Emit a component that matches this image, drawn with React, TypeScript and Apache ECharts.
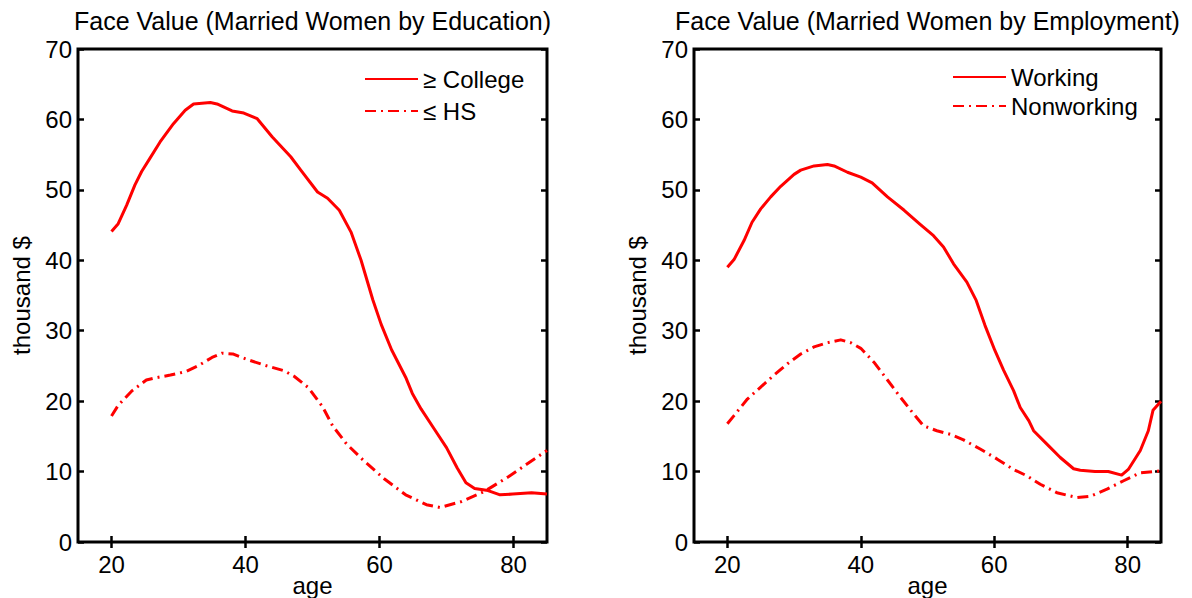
import React, { useEffect, useRef } from 'react';
import * as echarts from 'echarts';

// ---- tick labels ----
const xTicks = [20, 40, 60, 80];
const yMin = 0;
const yMax = 70;
const yStep = 10;
const xMin = 15;
const xMax = 85;

// ---- titles / names ----
const titleLeft = 'Face Value (Married Women by Education)';
const titleRight = 'Face Value (Married Women by Employment)';
const xName = 'age';
const yName = 'thousand $';

// ---- left panel: by education ----
const collegeName = '≥ College';
const collegeAges = [20, 21, 22.25, 23.5, 24.5, 25.75, 27.25, 29.25, 31, 32.25, 34.75, 35.75, 38, 39.75, 41.75, 44, 46.75, 48.25, 50.75, 52.25, 54, 55.75, 57.25, 59, 60.25, 61.8, 63.9, 64.9, 66.2, 68, 70, 71.6, 72.9, 74.2, 76.2, 78, 79.9, 82.7, 85];
const collegeValues = [44.1, 45.2, 47.8, 50.7, 52.6, 54.5, 56.8, 59.4, 61.3, 62.2, 62.4, 62.2, 61.2, 60.9, 60.1, 57.5, 54.7, 52.8, 49.7, 48.8, 47.1, 44.0, 40.0, 34.4, 30.9, 27.3, 23.4, 21.1, 18.9, 16.3, 13.4, 10.5, 8.4, 7.6, 7.3, 6.7, 6.8, 7.0, 6.8];

const hsName = '≤ HS';
const hsAges = [20, 21, 23.1, 25.2, 26.5, 28.8, 31.1, 32.9, 35, 36.5, 38.1, 40.6, 43.2, 45.8, 47.3, 49.4, 51.5, 53, 55.1, 57.7, 60.8, 63.9, 67, 69, 72.1, 75.7, 79.3, 81.9, 85];
const hsValues = [17.9, 19.4, 21.5, 23.0, 23.3, 23.7, 24.2, 25.0, 26.2, 26.8, 26.7, 25.8, 25.0, 24.3, 23.5, 21.9, 19.2, 16.5, 13.9, 11.5, 8.9, 6.7, 5.3, 4.9, 5.7, 7.2, 9.3, 11.0, 13.0];

// ---- right panel: by employment ----
const workingName = 'Working';
const workingAges = [20, 21, 22.5, 23.7, 25, 26.5, 28, 30, 31, 33, 35, 36, 38, 40, 41.7, 44, 46.5, 48.9, 50.9, 52.4, 53.9, 55.9, 57.3, 58.6, 60.1, 61.4, 62.9, 63.9, 65.2, 65.9, 67.9, 69.9, 71.9, 72.9, 75.1, 77.1, 79.1, 80.1, 81.9, 83.1, 83.8, 85];
const workingValues = [39.0, 40.1, 42.8, 45.4, 47.3, 49.0, 50.5, 52.2, 52.8, 53.4, 53.6, 53.4, 52.5, 51.8, 51.0, 49.0, 47.1, 45.1, 43.5, 41.9, 39.5, 36.9, 34.3, 30.8, 27.2, 24.4, 21.5, 19.1, 17.2, 15.8, 13.9, 12.0, 10.4, 10.2, 10.0, 10.0, 9.5, 10.3, 13.0, 15.8, 18.7, 20.0];

const nonworkingName = 'Nonworking';
const nonworkingAges = [20, 21, 23, 25, 27, 29, 31, 33, 35, 37, 38.5, 40, 42, 44, 45.9, 47.9, 49.4, 51.4, 53.4, 55.4, 57.9, 60.4, 62.9, 64.9, 66.9, 69.4, 72.4, 74.4, 76.9, 79.4, 81.8, 85];
const nonworkingValues = [16.8, 17.95, 20.3, 22.0, 23.7, 25.3, 26.7, 27.7, 28.3, 28.7, 28.3, 27.5, 25.5, 23.0, 20.6, 18.2, 16.5, 15.8, 15.3, 14.5, 13.2, 11.8, 10.3, 9.4, 8.2, 7.0, 6.3, 6.5, 7.5, 8.7, 9.8, 10.1];

const FONT = 'Liberation Sans, Arial, Helvetica, sans-serif';
const FS = 24;
const FS_TITLE = 25;
const RED = '#ff0000';

const zip = (xs: number[], ys: number[]) => xs.map((x, i) => [x, ys[i]]);

function buildOption() {
  const grids = [
    { left: 78, top: 49, width: 469, height: 493 },
    { left: 694, top: 49, width: 467, height: 493 },
  ];

  const tickStyle = { show: true, inside: true, length: 6, lineStyle: { color: '#000', width: 2.5 } };
  const xAxes: any[] = [];
  const yAxes: any[] = [];
  grids.forEach((_, gi) => {
    xAxes.push({
      type: 'value', gridIndex: gi, position: 'bottom', min: xMin, max: xMax,
      axisLine: { show: false },
      axisTick: { ...tickStyle, customValues: xTicks },
      axisLabel: { customValues: xTicks, color: '#000', fontSize: FS, fontFamily: FONT, margin: 10 },
      splitLine: { show: false },
      name: xName, nameLocation: 'middle', nameGap: 31, nameMoveOverlap: false,
      nameTextStyle: { color: '#000', fontSize: FS, fontFamily: FONT },
    });
    xAxes.push({
      type: 'value', gridIndex: gi, position: 'top', min: xMin, max: xMax,
      axisLine: { show: false },
      axisTick: { ...tickStyle, customValues: xTicks },
      axisLabel: { show: false, customValues: xTicks },
      splitLine: { show: false },
    });
    yAxes.push({
      type: 'value', gridIndex: gi, position: 'left', min: yMin, max: yMax, interval: yStep,
      axisLine: { show: false },
      axisTick: tickStyle,
      axisLabel: { color: '#000', fontSize: FS, fontFamily: FONT, margin: 6 },
      splitLine: { show: false },
      name: yName, nameLocation: 'middle', nameGap: 45, nameRotate: 90, nameMoveOverlap: false,
      nameTextStyle: { color: '#000', fontSize: FS, fontFamily: FONT },
    });
    yAxes.push({
      type: 'value', gridIndex: gi, position: 'right', min: yMin, max: yMax, interval: yStep,
      axisLine: { show: false },
      axisTick: tickStyle,
      axisLabel: { show: false },
      splitLine: { show: false },
    });
  });

  const solid = { color: RED, width: 3, type: 'solid' as const, join: 'round' as const };
  const dashDot = { color: RED, width: 3, type: [11, 5, 2, 5], join: 'round' as const };

  const mk = (name: string, data: number[][], gi: number, ls: any) => ({
    type: 'line', name, data, xAxisIndex: gi * 2, yAxisIndex: gi * 2,
    symbol: 'none', showSymbol: false, smooth: false, color: RED, lineStyle: ls,
  });

  const legendCommon = {
    orient: 'vertical', itemWidth: 53, itemHeight: 24,
    textStyle: { color: '#000', fontSize: FS, fontFamily: FONT },
    itemStyle: { color: 'rgba(0,0,0,0)', borderColor: 'rgba(0,0,0,0)', borderWidth: 0 },
    selectedMode: false,
  };

  return {
    animation: false,
    backgroundColor: '#fff',
    grid: grids.map((g) => ({
      ...g, show: true, borderColor: '#000', borderWidth: 3, backgroundColor: 'transparent',
      containLabel: false, outerBoundsMode: 'none',
    })),
    xAxis: xAxes,
    yAxis: yAxes,
    legend: [
      { ...legendCommon, data: [collegeName, hsName], left: 359, top: 62, itemGap: 8 },
      { ...legendCommon, data: [workingName, nonworkingName], left: 947, top: 60, itemGap: 5 },
    ],
    graphic: [
      { type: 'text', x: 312.5, y: 8, style: { text: titleLeft, fill: '#000', fontSize: FS_TITLE, fontFamily: FONT, align: 'center', verticalAlign: 'top' } },
      { type: 'text', x: 927.5, y: 8, style: { text: titleRight, fill: '#000', fontSize: FS_TITLE, fontFamily: FONT, align: 'center', verticalAlign: 'top' } },
    ],
    series: [
      mk(collegeName, zip(collegeAges, collegeValues), 0, solid),
      mk(hsName, zip(hsAges, hsValues), 0, dashDot),
      mk(workingName, zip(workingAges, workingValues), 1, solid),
      mk(nonworkingName, zip(nonworkingAges, nonworkingValues), 1, dashDot),
    ],
  };
}

export default function App() {
  const ref = useRef<HTMLDivElement>(null);
  useEffect(() => {
    if (!ref.current) return;
    const chart = echarts.init(ref.current, null, { renderer: 'svg' });
    chart.setOption(buildOption() as any);
    return () => chart.dispose();
  }, []);
  return (
    <div
      ref={ref}
      style={{ position: 'fixed', left: 0, top: 0, width: 1192, height: 598, background: '#fff' }}
    />
  );
}
